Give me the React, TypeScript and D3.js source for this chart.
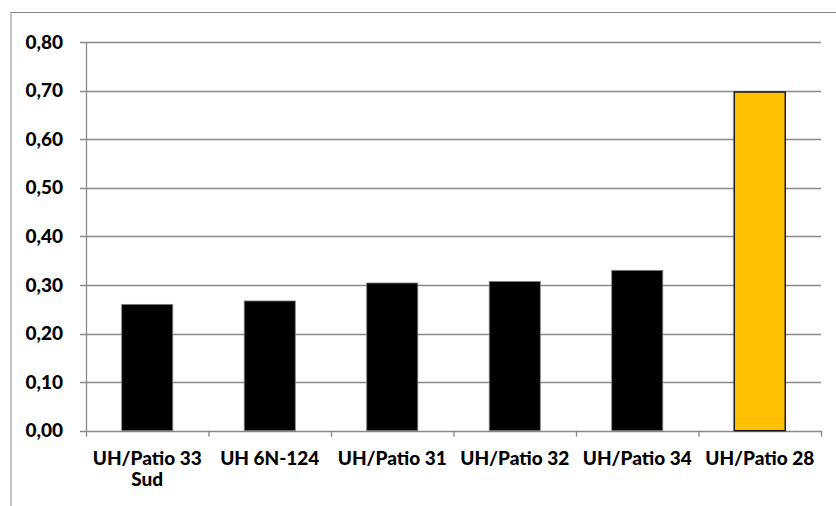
import React from "react";
import * as d3 from "d3";

const categories: string[][] = [
  ["UH/Patio 33", "Sud"],
  ["UH 6N-124"],
  ["UH/Patio 31"],
  ["UH/Patio 32"],
  ["UH/Patio 34"],
  ["UH/Patio 28"],
];
const values: number[] = [0.26, 0.267, 0.304, 0.307, 0.33, 0.697];
const highlight: boolean[] = [false, false, false, false, false, true];
const yTicks: number[] = [0, 0.1, 0.2, 0.3, 0.4, 0.5, 0.6, 0.7, 0.8];

const W = 836;
const H = 506;
const left = 86;
const right = 821;
const top = 42;
const bottom = 430.7;
const FONT = "Lato, 'Open Sans', sans-serif";

export default function App() {
  const x = d3
    .scaleBand<number>()
    .domain(d3.range(values.length))
    .range([left, right])
    .paddingInner(0)
    .paddingOuter(0);
  const y = d3.scaleLinear().domain([0, 0.8]).range([bottom, top]);
  const bw = x.bandwidth() / 2.4;
  const fmt = (v: number) => v.toFixed(2).replace(".", ",");

  return (
    <svg
      width={W}
      height={H}
      style={{ position: "absolute", left: 0, top: 0, background: "#fff" }}
    >
      <rect x={11} y={12.5} width={1000} height={1000} fill="#fff" stroke="#898989" strokeWidth={1} />
      {yTicks.map((t) => (
        <g key={t}>
          <line
            x1={80}
            x2={right}
            y1={Math.round(y(t)) + 0.5}
            y2={Math.round(y(t)) + 0.5}
            stroke="#898989"
            strokeWidth={1.3}
          />
          <text
            x={63}
            y={y(t)}
            dy="0.35em"
            textAnchor="end"
            fontFamily={FONT}
            fontWeight="900"
            fontSize={19}
            fill="#000"
          >
            {fmt(t)}
          </text>
        </g>
      ))}
      <line x1={left + 0.5} x2={left + 0.5} y1={top} y2={bottom} stroke="#898989" strokeWidth={1.3} />
      {d3.range(values.length + 1).map((i) => {
        const xx = i < values.length ? (x(i) as number) : right;
        return (
          <line
            key={i}
            x1={xx + 0.5}
            x2={xx + 0.5}
            y1={bottom}
            y2={bottom + 6}
            stroke="#898989"
            strokeWidth={1.3}
          />
        );
      })}
      {values.map((v, i) => {
        const cx = (x(i) as number) + x.bandwidth() / 2;
        return (
          <rect
            key={i}
            x={cx - bw / 2}
            y={y(v)}
            width={bw}
            height={bottom - y(v)}
            fill={highlight[i] ? "#FFC000" : "#000"}
            stroke={highlight[i] ? "#1a1a1a" : "#7f7f7f"}
            strokeWidth={highlight[i] ? 1.5 : 0.8}
          />
        );
      })}
      {categories.map((lines, i) => {
        const cx = (x(i) as number) + x.bandwidth() / 2;
        return (
          <text
            key={i}
            textAnchor="middle"
            fontFamily={FONT}
            fontWeight="900"
            fontSize={19}
            fill="#000"
          >
            {lines.map((l, j) => (
              <tspan key={j} x={cx} y={465 + j * 20.5}>
                {l}
              </tspan>
            ))}
          </text>
        );
      })}
    </svg>
  );
}
